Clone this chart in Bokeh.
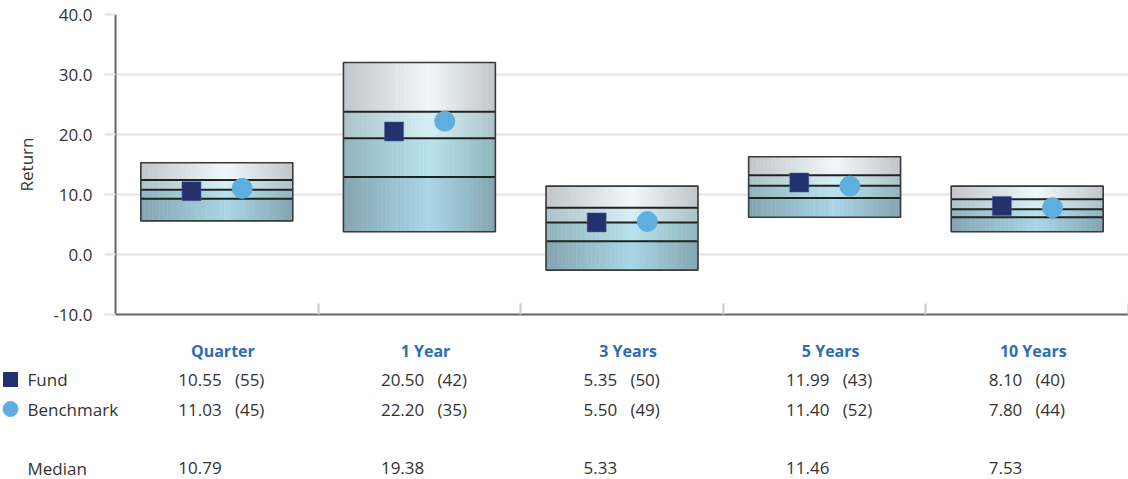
from bokeh.plotting import figure
from bokeh.layouts import column, row
from bokeh.models import Range1d, FixedTicker, PrintfTickFormatter, LinearAxis, Grid
from bokeh.core.properties import value
from bokeh.embed import file_html
from bokeh.resources import INLINE

# ---------------- data ----------------
categories = ["Quarter", "1 Year", "3 Years", "5 Years", "10 Years"]
p95 = [15.3, 32.0, 11.4, 16.3, 11.4]
p75 = [12.4, 23.8, 7.8, 13.2, 9.2]
median = [10.79, 19.38, 5.33, 11.46, 7.53]
p25 = [9.3, 12.9, 2.2, 9.4, 6.2]
p5 = [5.6, 3.8, -2.6, 6.2, 3.8]
fund = [10.55, 20.50, 5.35, 11.99, 8.10]
fund_rank = [55, 42, 50, 43, 40]
bench = [11.03, 22.20, 5.50, 11.40, 7.80]
bench_rank = [45, 35, 49, 52, 44]
y_ticks = [-10, 0, 10, 20, 30, 40]
row_labels = ["Fund", "Benchmark", "", "Median"]

# ---------------- style ----------------
FONT = "Open Sans"
TXT = "#333333"
FUND_C = "#23326f"
BENCH_C = "#5eafe0"
HEAD_C = "#2e6db4"
W = 1128
LEFT = 115
LEG_W = 160
TOP = 14
FRAME_H = 300
CHART_H = 364
TABLE_H = 115
ROW_PX = 29.5
ROW0 = 15
BOX_W = 0.75
N_STRIPS = 40
BANDS = [("#84a5b0", "#a9d6e6"), ("#8fb5bd", "#b8e3ec"),
         ("#abc3c8", "#d6eff5"), ("#c0c6ca", "#f0f8fb")]
PEAK = 0.57


def hex2rgb(h):
    h = h.lstrip("#")
    return [int(h[i:i + 2], 16) for i in (0, 2, 4)]


def mix(a, b, w):
    ra, rb = hex2rgb(a), hex2rgb(b)
    return "#%02x%02x%02x" % tuple(int(round(x + (y - x) * w)) for x, y in zip(ra, rb))


n = len(categories)
centers = [i + 0.5 for i in range(n)]

p = figure(width=W, height=CHART_H, x_range=Range1d(0, n), y_range=Range1d(-10, 40),
           output_backend="svg", toolbar_location=None, title=None,
           min_border_left=LEFT, min_border_top=TOP, min_border_right=0,
           min_border_bottom=CHART_H - TOP - FRAME_H, x_axis_type=None, y_axis_type=None)
p.outline_line_color = None

yax = LinearAxis(ticker=FixedTicker(ticks=y_ticks), formatter=PrintfTickFormatter(format="%.1f"))
yax.axis_label = "Return"
yax.axis_label_text_font = FONT
yax.axis_label_text_font_size = "17px"
yax.axis_label_text_font_style = "normal"
yax.axis_label_text_color = TXT
yax.axis_label_standoff = 12
yax.major_label_text_font = FONT
yax.major_label_text_font_size = "17px"
yax.major_label_text_color = TXT
yax.major_label_standoff = 12
yax.major_tick_out = 11
yax.major_tick_in = 0
yax.major_tick_line_color = "#e3e3e3"
yax.major_tick_line_width = 2
yax.minor_tick_line_color = None
yax.axis_line_color = "#666666"
yax.axis_line_width = 2
p.add_layout(yax, "left")

head_pos = [c + 0.03 for c in centers]
xax = LinearAxis(ticker=FixedTicker(ticks=head_pos, minor_ticks=list(range(1, n + 1))))
xax.major_label_overrides = {hp: cat for hp, cat in zip(head_pos, categories)}
xax.major_label_text_font = FONT
xax.major_label_text_font_size = "16px"
xax.major_label_text_font_style = "bold"
xax.major_label_text_color = HEAD_C
xax.major_label_standoff = 25
xax.major_tick_line_color = None
xax.major_tick_out = 0
xax.major_tick_in = 0
xax.minor_tick_in = 11
xax.minor_tick_out = 0
xax.minor_tick_line_color = "#cccccc"
xax.minor_tick_line_width = 2
xax.axis_line_color = "#666666"
xax.axis_line_width = 2
p.add_layout(xax, "below")

p.add_layout(Grid(dimension=1, ticker=yax.ticker, grid_line_color="#e3e3e3", grid_line_width=2))

L, R, T, B, C = [], [], [], [], []
for i in range(n):
    edges = [p5[i], p25[i], median[i], p75[i], p95[i]]
    x0 = centers[i] - BOX_W / 2
    sw = BOX_W / N_STRIPS
    for s in range(4):
        e_c, c_c = BANDS[s]
        for k in range(N_STRIPS):
            tt = (k + 0.5) / N_STRIPS
            d = (PEAK - tt) / PEAK if tt < PEAK else (tt - PEAK) / (1 - PEAK)
            L.append(x0 + k * sw)
            R.append(x0 + (k + 1) * sw)
            B.append(edges[s])
            T.append(edges[s + 1])
            C.append(mix(e_c, c_c, 1 - d))
p.quad(left=L, right=R, top=T, bottom=B, fill_color=C, line_color=C, line_width=0.6)

lefts = [c - BOX_W / 2 for c in centers]
rights = [c + BOX_W / 2 for c in centers]
for arr in (p25, median, p75):
    p.segment(x0=lefts, x1=rights, y0=arr, y1=arr, line_color="#222222", line_width=2)
p.quad(left=lefts, right=rights, top=p95, bottom=p5, fill_color=None,
       line_color="#3a3a3a", line_width=1.6)

p.scatter(x=[c - 0.125 for c in centers], y=fund, marker="square", size=19,
          fill_color=FUND_C, line_color="#4a5a90", line_width=0.5)
p.scatter(x=[c + 0.125 for c in centers], y=bench, marker="circle", size=20,
          fill_color=BENCH_C, line_color=BENCH_C)

# ---------------- table: legend column + values ----------------
def yr():
    return Range1d((TABLE_H - ROW0) / ROW_PX, -ROW0 / ROW_PX)


lg = figure(width=LEG_W, height=TABLE_H, x_range=Range1d(0, LEG_W), y_range=yr(),
            output_backend="svg", toolbar_location=None, title=None,
            min_border=0, x_axis_type=None, y_axis_type=None)
lg.outline_line_color = None
lg.xgrid.visible = False
lg.ygrid.visible = False
lg.scatter(x=[10], y=[0], marker="square", size=14, color=FUND_C)
lg.scatter(x=[10], y=[1], marker="circle", size=15, color=BENCH_C)
lg.text(x=[27] * len(row_labels), y=list(range(len(row_labels))), text=row_labels,
        text_font=value(FONT), text_font_size="17px", text_color=TXT,
        text_align="left", text_baseline="middle")

px_per = (W - LEFT) / n
t = figure(width=W - LEG_W, height=TABLE_H,
           x_range=Range1d((LEG_W - LEFT) / px_per, n), y_range=yr(),
           output_backend="svg", toolbar_location=None, title=None,
           min_border=0, x_axis_type=None, y_axis_type=None)
t.outline_line_color = None
t.xgrid.visible = False
t.ygrid.visible = False

vx = [c - 0.19 for c in centers]
SP = "\u00a0\u00a0\u00a0"
fund_txt = ["%.2f%s(%d)" % (v, SP, r) for v, r in zip(fund, fund_rank)]
bench_txt = ["%.2f%s(%d)" % (v, SP, r) for v, r in zip(bench, bench_rank)]
med_txt = ["%.2f" % v for v in median]
for rr, txts in ((0, fund_txt), (1, bench_txt), (3, med_txt)):
    t.text(x=vx, y=[rr] * n, text=txts, text_font=value(FONT), text_font_size="17px",
           text_color=TXT, text_align="left", text_baseline="middle")

layout = column(p, row(lg, t))
open("out.html", "w").write(file_html(layout, INLINE))
